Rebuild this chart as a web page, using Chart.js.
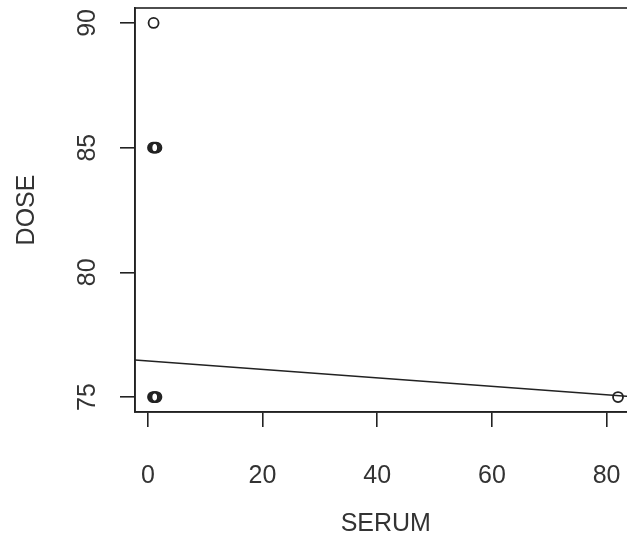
<!DOCTYPE html>
<html>
<head>
<meta charset="utf-8">
<script src="https://cdn.jsdelivr.net/npm/chart.js@4"></script>
<style>
  html, body { margin: 0; padding: 0; background: #fff; overflow: hidden; }
  #wrap { width: 660px; height: 539px; }
</style>
</head>
<body>
<div id="wrap"><canvas id="chart" width="660" height="539"></canvas></div>
<script>
// Scatter of DOSE against SERUM with fitted line (R-style base plot)

const serum = [1, 0.9, 1.1, 1.3, 1.5, 0.9, 1.1, 1.3, 1.5, 82];
const dose  = [90, 85, 85, 85, 85, 75, 75, 75, 75, 75];

const fitX = [-2.24, 85.24];
const fitY = [76.49, 75.0];

const xTicks = [0, 20, 40, 60, 80];
const yTicks = [75, 80, 85, 90];

const INK = '#222222';
const TEXT = '#333333';
const FONT = "'Liberation Sans', Arial, sans-serif";

// draws the full box round the plot region
const boxPlugin = {
  id: 'box',
  afterDraw(chart) {
    const { ctx, chartArea: a } = chart;
    ctx.save();
    ctx.strokeStyle = INK;
    ctx.lineWidth = 1.6;
    ctx.strokeRect(a.left, a.top, a.right - a.left, a.bottom - a.top);
    ctx.restore();
  }
};

new Chart(document.getElementById('chart'), {
  type: 'scatter',
  data: {
    datasets: [
      {
        label: 'data',
        data: serum.map((s, i) => ({ x: s, y: dose[i] })),
        pointRadius: 5,
        pointBorderWidth: 1.8,
        pointBorderColor: INK,
        pointBackgroundColor: 'rgba(0,0,0,0)',
        pointHoverRadius: 5
      },
      {
        label: 'fit',
        type: 'line',
        data: fitX.map((x, i) => ({ x, y: fitY[i] })),
        borderColor: INK,
        borderWidth: 1.5,
        pointRadius: 0,
        fill: false
      }
    ]
  },
  options: {
    responsive: false,
    animation: false,
    layout: { padding: { top: 8, right: 23.4, bottom: 0, left: 0 } },
    plugins: { legend: { display: false }, tooltip: { enabled: false } },
    scales: {
      x: {
        type: 'linear',
        min: -2.24,
        max: 85.24,
        afterBuildTicks: s => { s.ticks = xTicks.map(v => ({ value: v })); },
        afterFit: s => { s.height = 127; s.paddingLeft = 0; s.paddingRight = 0; },
        grid: { drawOnChartArea: false, tickLength: 15, color: INK, lineWidth: 1.6 },
        border: { display: true, color: INK, width: 1.6 },
        ticks: { padding: 34, color: TEXT, font: { family: FONT, size: 25 } },
        title: {
          display: true, text: 'SERUM', color: TEXT,
          font: { family: FONT, size: 25 }, padding: { top: 0, bottom: 0 }
        }
      },
      y: {
        type: 'linear',
        min: 74.4,
        max: 90.6,
        afterBuildTicks: s => { s.ticks = yTicks.map(v => ({ value: v })); },
        afterFit: s => { s.width = 135; s.paddingTop = 0; s.paddingBottom = 0; },
        grid: { drawOnChartArea: false, tickLength: 15, color: INK, lineWidth: 1.6 },
        border: { display: true, color: INK, width: 1.6 },
        ticks: {
          minRotation: 90, maxRotation: 90, crossAlign: 'center',
          padding: 18, color: TEXT, font: { family: FONT, size: 25 }
        },
        title: {
          display: true, text: 'DOSE', color: TEXT,
          font: { family: FONT, size: 25 }, padding: { top: 12, bottom: 0 }
        }
      }
    }
  },
  plugins: [boxPlugin]
});
</script>
</body>
</html>
